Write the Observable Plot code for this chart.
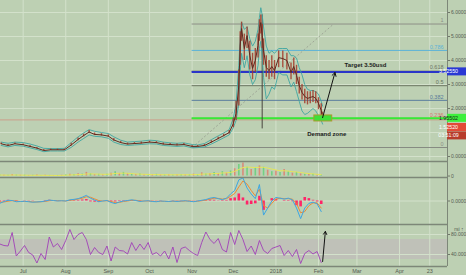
<!DOCTYPE html>
<html><head><meta charset="utf-8">
<script src="https://cdn.jsdelivr.net/npm/d3@7"></script>
<script src="https://cdn.jsdelivr.net/npm/@observablehq/plot@0.6"></script>
<style>
html,body{margin:0;padding:0;background:#bdd0b3;}
#chart{position:relative;width:466px;height:275px;overflow:hidden;background:#bdd0b3;}
#chart svg{display:block;}
</style></head><body><div id="chart"></div>
<script>
// ---------- DATA ----------
const mainDates = ["2017-06-15","2017-06-20","2017-06-25","2017-07-01","2017-07-06","2017-07-11","2017-07-16","2017-07-21","2017-07-26","2017-07-31","2017-08-05","2017-08-10","2017-08-14","2017-08-18","2017-08-22","2017-08-27","2017-09-01","2017-09-05","2017-09-10","2017-09-15","2017-09-20","2017-09-25","2017-10-01","2017-10-06","2017-10-11","2017-10-16","2017-10-21","2017-10-26","2017-11-01","2017-11-05","2017-11-10","2017-11-15","2017-11-20","2017-11-24","2017-11-28","2017-12-01","2017-12-03","2017-12-05","2017-12-06","2017-12-07","2017-12-09","2017-12-11","2017-12-13","2017-12-15","2017-12-17","2017-12-19","2017-12-20","2017-12-21","2017-12-22","2017-12-23","2017-12-25","2017-12-27","2017-12-29","2017-12-31","2018-01-03","2018-01-06","2018-01-09","2018-01-12","2018-01-14","2018-01-16","2018-01-18","2018-01-20","2018-01-22","2018-01-24","2018-01-26","2018-01-28","2018-01-30","2018-02-01","2018-02-03","2018-02-04"];
const closes = [0.53,0.46,0.53, 0.49,0.42,0.35,0.25,0.28,0.28,0.28, 0.48,0.71,0.87,1.02,0.92,0.90, 0.85,0.69,0.58,0.52,0.54,0.56, 0.60,0.58,0.52,0.50,0.48,0.50, 0.42,0.42,0.46,0.60,0.75,0.87,1.00, 1.37,1.79,2.96,4.6,5.33,4.5,5.04,4.2,3.67,4.0,4.62,5.33,5.58,5.04,4.42,3.71,3.58,3.75,3.58, 4.12,4.08,4.0,3.5,3.75,3.38,2.96,2.67,2.5,2.42,2.46,2.5,2.42, 2.21,1.92,1.6];
const candleHigh = [0.56,0.5,0.56, 0.52,0.46,0.38,0.29,0.31,0.31,0.31, 0.55,0.77,0.93,1.08,0.98,0.95, 0.9,0.75,0.63,0.56,0.58,0.6, 0.64,0.62,0.56,0.54,0.52,0.54, 0.46,0.46,0.5,0.66,0.8,0.93,1.08, 1.6,2.3,3.6,5.2,5.6,5.1,5.4,4.8,4.3,4.5,5.1,5.7,5.9,5.5,4.9,4.2,4.0,4.2,4.0, 4.4,4.4,4.3,3.9,4.1,3.8,3.3,3.0,2.8,2.7,2.7,2.75,2.7, 2.45,2.2,1.85];
const candleLow = [0.5,0.43,0.5, 0.46,0.39,0.31,0.23,0.25,0.25,0.25, 0.44,0.66,0.82,0.96,0.87,0.85, 0.8,0.64,0.54,0.48,0.5,0.52, 0.56,0.54,0.48,0.46,0.45,0.46, 0.39,0.39,0.42,0.55,0.7,0.82,0.94, 1.2,1.5,2.1,3.8,4.8,4.0,4.5,3.6,3.2,3.5,4.1,4.8,5.1,4.5,3.8,3.3,3.2,3.3,3.2, 3.7,3.7,3.6,3.2,3.4,3.0,2.6,2.35,2.2,2.15,2.2,2.25,2.2, 1.95,1.7,1.5];
const upperBand = [0.6,0.55,0.6, 0.58,0.52,0.44,0.34,0.33,0.33,0.34, 0.58,0.82,0.98,1.12,1.05,1.0, 0.96,0.82,0.68,0.6,0.62,0.64, 0.68,0.66,0.6,0.57,0.55,0.57, 0.5,0.48,0.54,0.7,0.86,0.98,1.12, 1.6,2.2,3.8,5.0,5.6,5.3,5.4,4.9,4.6,4.8,5.3,5.8,6.2,5.9,5.4,4.6,4.3,4.4,4.3, 4.5,4.5,4.5,4.2,4.2,4.1,3.7,3.4,3.0,2.8,2.75,2.75,2.7, 2.6,2.3,2.1];
const lowerBand = [0.46,0.4,0.46, 0.43,0.36,0.29,0.2,0.23,0.23,0.23, 0.38,0.6,0.75,0.9,0.84,0.82, 0.76,0.6,0.5,0.46,0.48,0.5, 0.53,0.52,0.46,0.44,0.42,0.44, 0.36,0.37,0.4,0.52,0.66,0.78,0.9, 1.2,1.5,2.2,3.5,4.3,3.7,4.2,3.4,3.0,3.2,3.8,4.5,4.8,4.2,3.3,2.4,2.6,2.9,2.8, 3.5,3.4,3.4,2.9,3.1,2.7,2.3,1.9,1.75,1.8,1.9,2.0,1.9, 1.7,1.5,1.35];
const wickDates = ["2017-12-22"];
const wickLow = [1.15];
const wickHigh = [5.9];

const fibLabels = ["1","0.786","0.618","0.5","0.382","0.236","0"];
const fibPrices = [5.52,4.42,3.555,2.95,2.34,1.59,0.375];
const fibStartDate = "2017-11-01";
const fibEndDate = "2018-02-12";
const targetPrice = 3.5255;
const supportPrice = 1.59;
const lastPrice = 1.5252;
const priceTicks = [0,2,3,4,5,6];
const priceGrid = [0,1,2,3,4,5,6];
const priceBoxes = ["3.52550","1.95502","1.52520","03:51:09"];

const zoneDates = ["2018-01-29","2018-02-11"];
const zonePrices = [1.46,1.71];
const arrowDates = ["2018-02-04","2018-02-13"];
const arrowPrices = [1.62,3.5];
const targetNote = "Target 3.50usd";
const targetNoteDate = "2018-02-20";
const targetNotePrice = 3.79;
const zoneNote = "Demand zone";
const zoneNoteDate = "2018-02-07";
const zoneNotePrice = 0.92;

// indicator series every 3 days from 2017-06-14
const indDates = ["2017-06-14","2017-06-17","2017-06-20","2017-06-23","2017-06-26","2017-06-29","2017-07-02","2017-07-05","2017-07-08","2017-07-11","2017-07-14","2017-07-17","2017-07-20","2017-07-23","2017-07-26","2017-07-29","2017-08-01","2017-08-04","2017-08-07","2017-08-10","2017-08-13","2017-08-16","2017-08-19","2017-08-22","2017-08-25","2017-08-28","2017-08-31","2017-09-03","2017-09-06","2017-09-09","2017-09-12","2017-09-15","2017-09-18","2017-09-21","2017-09-24","2017-09-27","2017-09-30","2017-10-03","2017-10-06","2017-10-09","2017-10-12","2017-10-15","2017-10-18","2017-10-21","2017-10-24","2017-10-27","2017-10-30","2017-11-02","2017-11-05","2017-11-08","2017-11-11","2017-11-14","2017-11-17","2017-11-20","2017-11-23","2017-11-26","2017-11-29","2017-12-02","2017-12-05","2017-12-08","2017-12-11","2017-12-14","2017-12-17","2017-12-20","2017-12-23","2017-12-26","2017-12-29","2018-01-01","2018-01-04","2018-01-07","2018-01-10","2018-01-13","2018-01-16","2018-01-19","2018-01-22","2018-01-25","2018-01-28","2018-01-31","2018-02-03"];
const volume = [0.8,0.5,0.6,1.0,0.7,0.5,0.6,0.4,0.5,0.7,0.4,0.5,0.4,0.3,0.4,0.5,
 0.8,1.2,1.0,1.5,1.3,2.5,1.6,1.0,1.2,0.9,1.3,2.0,3.0,1.8,2.5,1.5,1.2,1.0,1.4,0.9,1.1,
 0.9,1.2,0.8,0.7,1.0,0.8,0.9,1.1,0.8,0.9,1.3,1.0,2.2,1.4,1.8,2.5,1.6,3.0,2.0,3.5,
 5,8,9,6,4.5,5.5,7,6,4,3,3.5,2.5,4.5,3,2,2.5,1.5,1.2,1.0,1.3,0.8,0.7];
const volumeMA = [0.7,0.65,0.6,0.7,0.7,0.65,0.6,0.55,0.5,0.55,0.5,0.5,0.45,0.4,0.4,0.45,
 0.55,0.7,0.8,1.0,1.1,1.4,1.5,1.4,1.3,1.2,1.2,1.4,1.8,1.9,2.0,1.9,1.7,1.4,1.3,1.2,1.1,
 1.0,1.0,0.95,0.9,0.9,0.85,0.85,0.9,0.9,0.9,1.0,1.0,1.3,1.4,1.5,1.7,1.8,2.1,2.2,2.5,
 3.2,4.5,5.8,6.2,6.0,5.8,6.0,6.0,5.5,4.8,4.2,3.6,3.6,3.4,3.0,2.8,2.4,2.0,1.7,1.5,1.2,1.0];
const macd = [-0.1,-0.02,0.03,0.02,-0.03,-0.02,-0.01,-0.03,-0.05,-0.04,
 -0.03,0.0,0.04,0.02,0.0,0.01,0.0,0.05,0.07,0.1,
 0.16,0.24,0.12,0.04,-0.03,0.0,0.02,-0.06,-0.11,-0.04,
 0.0,0.02,0.05,0.02,-0.02,0.0,0.01,-0.02,-0.03,0.0,
 -0.01,-0.02,0.0,-0.02,0.0,0.01,-0.01,-0.03,0.0,0.03,
 0.06,0.12,0.15,0.1,0.06,0.12,0.3,0.45,0.9,0.98,
 0.55,0.3,0.1,0.7,-0.6,-0.3,0.0,0.15,0.12,0.08,
 0.12,0.05,-0.3,-0.75,-0.3,-0.1,-0.05,-0.12,-0.45];
const signal = [-0.05,-0.04,-0.01,0.01,0.0,-0.02,-0.02,-0.02,-0.04,-0.04,
 -0.03,-0.02,0.01,0.02,0.01,0.01,0.0,0.03,0.05,0.08,
 0.12,0.18,0.16,0.09,0.02,0.0,0.01,-0.02,-0.07,-0.06,
 -0.02,0.0,0.03,0.03,0.0,0.0,0.0,-0.01,-0.02,-0.01,
 -0.01,-0.02,-0.01,-0.01,-0.01,0.0,0.0,-0.02,-0.01,0.01,
 0.04,0.08,0.12,0.11,0.08,0.1,0.2,0.32,0.6,0.85,
 0.72,0.45,0.22,0.5,-0.2,-0.3,-0.1,0.08,0.12,0.1,
 0.1,0.08,-0.1,-0.5,-0.45,-0.2,-0.08,-0.08,-0.3];
const histogram = [-0.04,0.02,0.03,0.01,-0.03,0.0,0.01,-0.01,-0.01,0.0,
 0.0,0.02,0.03,0.0,-0.01,0.0,0.0,0.02,0.02,0.02,
 0.04,0.06,-0.04,-0.05,-0.05,0.0,0.01,-0.04,-0.04,0.02,
 0.02,0.02,0.02,-0.01,-0.02,0.0,0.01,-0.01,-0.01,0.01,
 0.0,0.0,0.01,-0.01,0.01,0.01,-0.01,-0.01,0.01,0.02,
 0.02,0.04,0.03,-0.01,-0.02,0.02,0.1,0.13,0.3,0.13,
 -0.17,-0.15,-0.12,0.2,-0.4,0.0,0.1,0.07,0.0,-0.02,
 0.02,-0.03,-0.2,-0.25,0.15,0.1,0.03,-0.04,-0.15];
const rsi = [61,58,57,84,37,47,58,44,39,23,
 42,30,75,55,62,50,68,90,70,80,
 84,70,40,54,44,40,57,27,55,48,
 47,41,64,48,61,50,64,40,44,37,
 47,31,55,24,52,55,48,42,38,64,
 85,70,62,72,50,45,84,60,88,70,
 46,57,40,68,48,42,52,55,58,38,
 48,36,50,22,42,48,41,46,24];
const rsiBand = [30,70];
const rsiTicks = [80,40];
const rsiArrowDates = ["2018-02-04","2018-02-06"];
const rsiArrowValues = [26,86];

const xTickDates = ["2017-07-01","2017-08-01","2017-09-01","2017-10-01","2017-11-01","2017-12-01","2018-01-01","2018-02-01","2018-03-01","2018-04-01","2018-04-23"];
const xTickLabels = ["Jul","Aug","Sep","Oct","Nov","Dec","2018","Feb","Mar","Apr","23"];

// ---------- SETUP ----------
const P = d3.utcParse("%Y-%m-%d");
const xDomain = [new Date("2017-06-14T12:00Z"), new Date("2018-05-05T22:00Z")];
const W = 466, MR = 19;
const GRID = "#d3e1cb", SEP = "#7d8778", AXIS = "#555b52";
const FONT = "Liberation Sans, DejaVu Sans, sans-serif";
const xt = xTickDates.map(P);
const labelMap = new Map(xt.map((d,i)=>[+d, xTickLabels[i]]));

const main = mainDates.map((d,i)=>({date:P(d), close:closes[i], hi:candleHigh[i], lo:candleLow[i], upper:upperBand[i], lower:lowerBand[i]}));
const ind = indDates.map((d,i)=>({date:P(d), vol:volume[i], volMA:volumeMA[i], macd:macd[i], signal:signal[i], hist:histogram[i], rsi:rsi[i]}));
const fib = fibLabels.map((l,i)=>({label:l, price:fibPrices[i]}));
const fibColors = {"1":"#8d9088","0.786":"#5cb3d8","0.618":"#6f7566","0.5":"#69745f","0.382":"#577b9a","0.236":"#d8786a","0":"#8d9088"};
const fibLineColors = {"1":"#8d9088","0.786":"#5cb3d8","0.618":"#6f7566","0.5":"#6a7660","0.382":"#5a7e9e","0.236":"#d8786a","0":"#868b82"};
const fs = P(fibStartDate);

function panel(h, mb, yDomain, marks){
  return Plot.plot({
    width: W, height: h, marginLeft: 0, marginRight: MR, marginTop: 0, marginBottom: mb,
    x: {type: "utc", domain: xDomain, axis: null},
    y: {domain: yDomain, axis: null},
    color: {type: "identity"},
    style: {background: "transparent", overflow: "visible", color: AXIS, fontFamily: FONT},
    marks
  });
}
const rightAxis = (ticks, fmt) => Plot.axisY(ticks, {anchor: "right", tickSize: 2, tickPadding: 1.5, tickFormat: fmt, fontSize: 5, stroke: "#6f7769", fill: AXIS});

// ---------- MAIN PANEL ----------
const mainPlot = panel(161, 0, [-0.2083, 6.5], [
  Plot.ruleY(priceGrid, {stroke: GRID, strokeWidth: 1}),
  Plot.ruleX(xt, {stroke: GRID, strokeWidth: 1}),
  Plot.ruleY([lastPrice], {stroke: "#cf9080", strokeWidth: 0.8}),
  Plot.ruleY(fib, {y: "price", x1: fs, x2: xDomain[1], stroke: d => fibLineColors[d.label], strokeWidth: 1}),
  Plot.link([{a: fs, b: P(fibEndDate)}], {x1: "a", y1: () => fibPrices[6], x2: "b", y2: () => fibPrices[0], stroke: "#9ea596", strokeWidth: 1, strokeDasharray: "2,2"}),
  Plot.ruleY([targetPrice], {x1: fs, x2: xDomain[1], stroke: "#2a35c8", strokeWidth: 2}),
  Plot.ruleY([supportPrice], {x1: fs, x2: xDomain[1], stroke: "#35ea35", strokeWidth: 2}),
  Plot.ruleX(wickDates.map(P), {y1: wickLow, y2: wickHigh, stroke: "#3a3530", strokeWidth: 0.9}),
  Plot.line(main, {x: "date", y: "upper", stroke: "#3fa6a2", strokeWidth: 0.9}),
  Plot.line(main, {x: "date", y: "lower", stroke: "#3fa6a2", strokeWidth: 0.9}),
  Plot.ruleX(main, {x: "date", y1: "lo", y2: "hi", stroke: "#a33a2a", strokeWidth: 1.4, strokeOpacity: 0.85}),
  Plot.line(main, {x: "date", y: "close", stroke: "#5e2a20", strokeWidth: 1}),
  Plot.rect([0], {x1: () => P(zoneDates[0]), x2: () => P(zoneDates[1]), y1: () => zonePrices[0], y2: () => zonePrices[1], fill: "#3de03a", stroke: "#a89a2c", strokeWidth: 1}),
  Plot.arrow([0], {x1: () => P(arrowDates[0]), y1: () => arrowPrices[0], x2: () => P(arrowDates[1]), y2: () => arrowPrices[1], stroke: "#111", strokeWidth: 1, headLength: 6}),
  Plot.text([targetNote], {x: () => P(targetNoteDate), y: () => targetNotePrice, text: d => d, textAnchor: "start", fontSize: 6, fontWeight: "bold", fill: "#1c1c1c"}),
  Plot.text([zoneNote], {x: () => P(zoneNoteDate), y: () => zoneNotePrice, text: d => d, textAnchor: "middle", fontSize: 6, fontWeight: "bold", fill: "#1c1c1c"}),
  Plot.text(fib, {x: xDomain[1], y: "price", text: "label", textAnchor: "end", dx: -4, dy: -3.5, fontSize: 5.5, fill: d => fibColors[d.label]}),
  Plot.ruleX([xDomain[1]], {stroke: SEP, strokeWidth: 1}),
  rightAxis(priceTicks, d => d.toFixed(5))
]);
{
  const ys = mainPlot.scale("y");
  const xr = W - MR;
  const boxes = [
    {t: priceBoxes[0], y: ys.apply(targetPrice), fill: "#2a38d4", color: "#fff"},
    {t: priceBoxes[1], y: ys.apply(supportPrice), fill: "#3cf03c", color: "#1a1a1a"},
    {t: priceBoxes[2], y: ys.apply(lastPrice) + 7.6, fill: "#e24b38", color: "#fff"},
    {t: priceBoxes[3], y: ys.apply(lastPrice) + 16, fill: "#b73c2c", color: "#fff"}
  ];
  const g = d3.select(mainPlot).append("g").attr("font-family", FONT).attr("font-size", 5.3);
  for (const b of boxes) {
    g.append("rect").attr("x", xr).attr("y", b.y - 4).attr("width", MR).attr("height", 8).attr("fill", b.fill);
    g.append("text").attr("x", xr + 1.5).attr("y", b.y).attr("dy", "0.35em").attr("fill", b.color).text(b.t);
  }
}

// ---------- VOLUME PANEL ----------
const volPlot = panel(16, 0, [-1, 10], [
  Plot.ruleX(xt, {stroke: GRID, strokeWidth: 1}),
  Plot.ruleX(ind, {x: "date", y1: 0, y2: "vol", stroke: (d,i) => i % 2 ? "#e07a6a" : "#5fcf78", strokeWidth: 1.6, strokeOpacity: 0.8}),
  Plot.line(ind, {x: "date", y: "volMA", stroke: "#e6e65a", strokeWidth: 1}),
  Plot.ruleY([10], {stroke: SEP, strokeWidth: 1.5}),
  Plot.ruleX([xDomain[1]], {stroke: SEP, strokeWidth: 1}),
  rightAxis([0], d => "0")
]);

// ---------- MACD PANEL ----------
const macdPlot = panel(47, 0, [-1, 1], [
  Plot.ruleY([0], {stroke: GRID, strokeWidth: 1}),
  Plot.ruleX(xt, {stroke: GRID, strokeWidth: 1}),
  Plot.ruleX(ind, {x: "date", y1: 0, y2: "hist", stroke: "#ff2468", strokeWidth: 2.6}),
  Plot.line(ind, {x: "date", y: "signal", stroke: "#ee8a34", strokeWidth: 1}),
  Plot.line(ind, {x: "date", y: "macd", stroke: "#3ea6e2", strokeWidth: 1}),
  Plot.ruleY([1], {stroke: SEP, strokeWidth: 1.5}),
  Plot.ruleX([xDomain[1]], {stroke: SEP, strokeWidth: 1}),
  rightAxis([0], d => d.toFixed(4))
]);

// ---------- RSI PANEL ----------
const rsiPlot = panel(51, 9, [16, 100], [
  Plot.rect([0], {y1: () => rsiBand[0], y2: () => rsiBand[1], fill: "#bfc1b8"}),
  Plot.ruleY(rsiTicks, {stroke: GRID, strokeWidth: 1}),
  Plot.ruleX(xt, {stroke: GRID, strokeWidth: 1}),
  Plot.line(ind, {x: "date", y: "rsi", stroke: "#a040b8", strokeWidth: 0.9}),
  Plot.arrow([0], {x1: () => P(rsiArrowDates[0]), y1: () => rsiArrowValues[0], x2: () => P(rsiArrowDates[1]), y2: () => rsiArrowValues[1], stroke: "#111", strokeWidth: 1, headLength: 5}),
  Plot.ruleY([100], {stroke: SEP, strokeWidth: 1.5}),
  Plot.ruleY([16], {stroke: SEP, strokeWidth: 1.5}),
  Plot.ruleX([xDomain[1]], {y1: 16, y2: 100, stroke: SEP, strokeWidth: 1}),
  rightAxis(rsiTicks, d => d.toFixed(4)),
  Plot.axisX(xt, {tickSize: 0, tickPadding: 2.5, tickFormat: d => labelMap.get(+d), fontSize: 5.5, fill: AXIS})
]);

const root = document.getElementById("chart");
[mainPlot, volPlot, macdPlot, rsiPlot].forEach(p => root.appendChild(p));
</script></body></html>
